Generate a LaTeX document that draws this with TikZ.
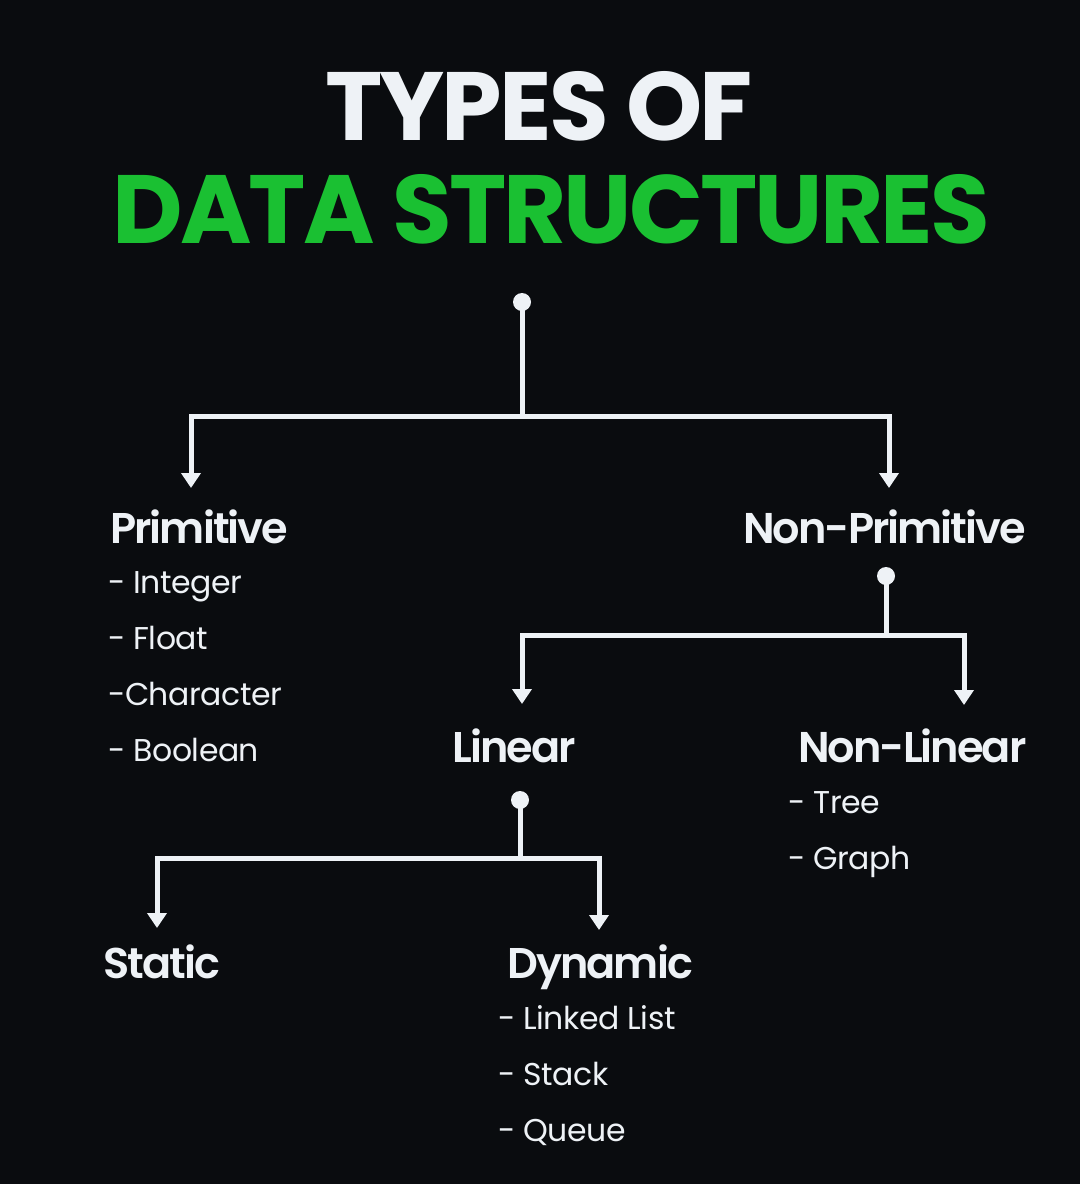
\documentclass[tikz,border=0pt]{standalone}
\usepackage{fontspec}
\setmainfont{Poppins}[LetterSpace=-1.5]
\newfontfamily\titlefont{Poppins Bold}[LetterSpace=-3]
\newfontfamily\headfont{Poppins SemiBold}[LetterSpace=-4.5]
\usetikzlibrary{arrows.meta}
\definecolor{bg}{RGB}{10,12,15}
\definecolor{fg}{RGB}{238,242,246}
\definecolor{dsgreen}{RGB}{26,192,50}
\tikzset{
  head/.style={anchor=base west, inner sep=0pt, text=fg, font=\headfont\fontsize{43}{43}\selectfont},
  item/.style={anchor=base west, inner sep=0pt, text=fg, font=\fontsize{31.5}{32}\selectfont},
  title/.style={anchor=base, inner sep=0pt, font=\titlefont\fontsize{97}{97}\selectfont},
  dotnode/.style={circle, fill=fg, minimum size=18pt, inner sep=0pt},
  conn/.style={draw=fg, line width=5pt},
  arr/.style={conn, -{Triangle[width=19pt,length=15pt]}},
}
\begin{document}
\begin{tikzpicture}[x=1pt,y=-1pt]
\fill[bg] (0,0) rectangle (1080,1184);
\useasboundingbox (0,0) rectangle (1080,1184);
% titles
\node[title, text=fg] (t1) at (539,140) {TYPES OF};
\node[title, text=dsgreen] (t2) at (551,243) {DATA STRUCTURES};
% level 1
\node[dotnode] (d1) at (522,302) {};
\coordinate (j1) at (522,416);
\coordinate (a1) at (191,488);
\coordinate (a2) at (889,488);
\draw[conn] (d1.center) -- (j1);
\draw[arr] (j1) -| (a1);
\draw[arr] (j1) -| (a2);
\node[head] (prim) at (110,543) {Primitive};
\node[item] (i1) at (108,593) {- Integer};
\node[item] (i2) at (108,649) {- Float};
\node[item] (i3) at (108,705) {-Character};
\node[item] (i4) at (108,761) {- Boolean};
\node[head] (nprim) at (743,543) {Non-Primitive};
% level 2
\node[dotnode] (d2) at (886,576) {};
\coordinate (j2) at (886,635);
\coordinate (b1) at (522,704);
\coordinate (b2) at (964,705);
\draw[conn] (d2.center) -- (j2);
\draw[arr] (j2) -| (b1);
\draw[arr] (j2) -| (b2);
\node[head] (lin) at (452,762) {Linear};
\node[head] (nlin) at (798,762) {Non-Linear};
\node[item] (n1) at (788,813) {- Tree};
\node[item] (n2) at (788,869) {- Graph};
% level 3
\node[dotnode] (d3) at (520,800) {};
\coordinate (j3) at (520,858);
\coordinate (c1) at (157,928);
\coordinate (c2) at (599,930);
\draw[conn] (d3.center) -- (j3);
\draw[arr] (j3) -| (c1);
\draw[arr] (j3) -| (c2);
\node[head] (stat) at (103,978) {Static};
\node[head] (dyn) at (507,978) {Dynamic};
\node[item] (y1) at (498,1029) {- Linked List};
\node[item] (y2) at (498,1085) {- Stack};
\node[item] (y3) at (498,1141) {- Queue};
\end{tikzpicture}
\end{document}
